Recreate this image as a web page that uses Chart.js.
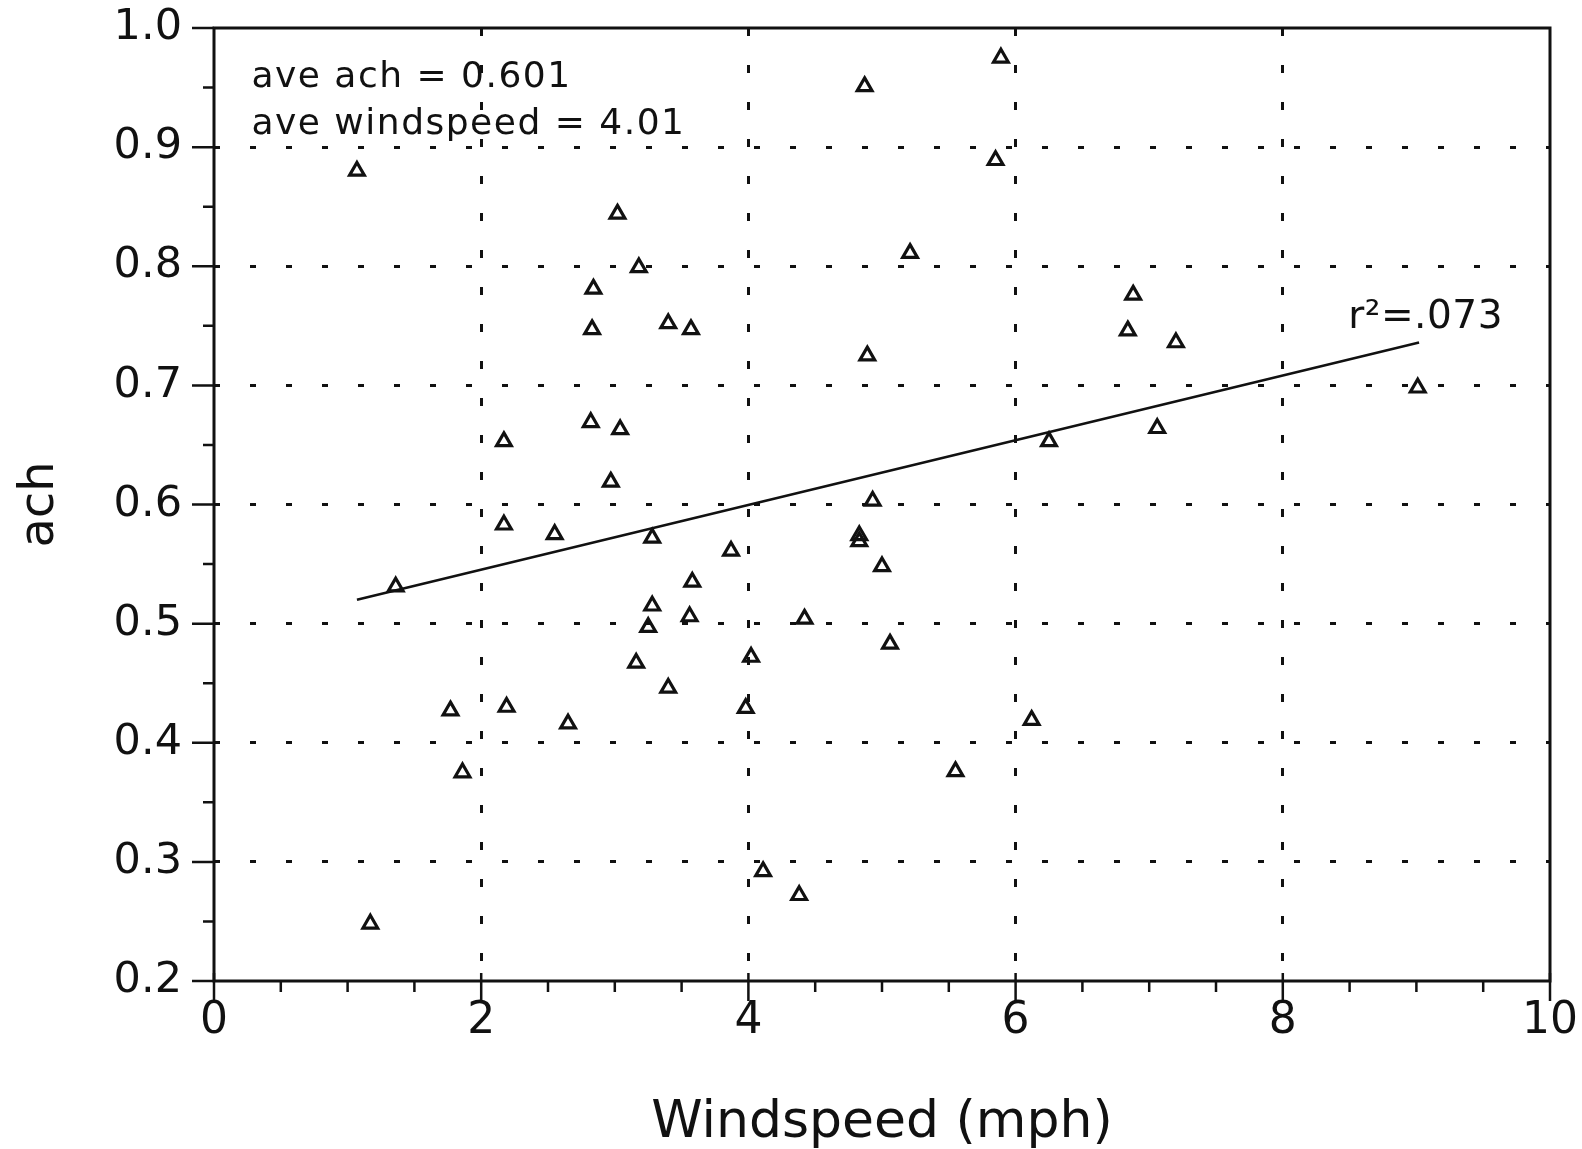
<!DOCTYPE html>
<html>
<head>
<meta charset="utf-8">
<title>ach vs windspeed</title>
<script src="https://cdn.jsdelivr.net/npm/chart.js@4.4.1/dist/chart.umd.min.js"></script>
<style>
  html, body { margin: 0; padding: 0; background: #fff; }
  #wrap { width: 1582px; height: 1149px; }
</style>
</head>
<body>
<div id="wrap"><canvas id="achChart"></canvas></div>
<script>
// wind speed (mph) and air changes per hour
const windspeed = [1.07, 1.17, 1.36, 1.77, 1.86, 2.17, 2.17, 2.19, 2.55, 2.65,
                   2.84, 2.83, 2.82, 2.97, 3.02, 3.04, 3.18, 3.28, 3.28, 3.25,
                   3.16, 3.40, 3.57, 3.58, 3.56, 3.40, 3.87, 4.02, 3.98, 4.11,
                   4.38, 4.42, 4.87, 4.89, 4.93, 4.83, 4.83, 5.00, 5.06, 5.21,
                   5.55, 5.85, 5.89, 6.12, 6.25, 6.84, 6.88, 7.06, 7.20, 9.01];
const ach = [0.880, 0.248, 0.531, 0.427, 0.375, 0.653, 0.583, 0.430, 0.575, 0.416,
             0.781, 0.747, 0.669, 0.619, 0.844, 0.663, 0.799, 0.572, 0.515, 0.497,
             0.467, 0.752, 0.747, 0.535, 0.506, 0.446, 0.561, 0.472, 0.429, 0.292,
             0.272, 0.504, 0.951, 0.725, 0.603, 0.574, 0.569, 0.548, 0.483, 0.811,
             0.376, 0.889, 0.975, 0.419, 0.653, 0.746, 0.776, 0.664, 0.736, 0.698];

// regression line end points
const fitX = [1.07, 9.02];
const fitY = [0.520, 0.736];

const xTicks = [0, 2, 4, 6, 8, 10];
const yTicks = [0.2, 0.3, 0.4, 0.5, 0.6, 0.7, 0.8, 0.9, 1.0];

const notes = ['ave ach = 0.601', 'ave windspeed = 4.01', 'r\u00b2=.073'];

const FONT = "'DejaVu Sans', 'Liberation Sans', sans-serif";
const INK = '#111';

const points = windspeed.map((w, i) => ({ x: w, y: ach[i] }));
const fitLine = fitX.map((x, i) => ({ x: x, y: fitY[i] }));

// frame, tick marks (major + minor) and the text notes
const frameAndTicks = {
    id: 'frameAndTicks',
    afterDatasetsDraw(chart) {
        const { ctx, chartArea: a, scales } = chart;
        const xs = scales.x, ys = scales.y;
        ctx.save();
        ctx.strokeStyle = INK;
        ctx.lineWidth = 3;
        ctx.strokeRect(a.left, a.top, a.right - a.left, a.bottom - a.top);

        ctx.lineWidth = 2.5;
        ctx.beginPath();
        // x axis: minor every 0.5 below, major every 2 across
        for (let v = 0; v <= 10.001; v += 0.5) {
            const px = xs.getPixelForValue(v);
            const major = Math.abs(v / 2 - Math.round(v / 2)) < 1e-6;
            ctx.moveTo(px, major ? a.bottom - 8 : a.bottom);
            ctx.lineTo(px, a.bottom + (major ? 20 : 11));
        }
        // y axis: minor every 0.05, major every 0.1, pointing left
        for (let k = 0; k <= 16; k++) {
            const v = 0.2 + k * 0.05;
            const py = ys.getPixelForValue(v);
            ctx.moveTo(a.left - (k % 2 === 0 ? 22 : 11), py);
            ctx.lineTo(a.left, py);
        }
        ctx.stroke();
        ctx.restore();
    },
    afterDraw(chart) {
        const { ctx, scales } = chart;
        const xs = scales.x, ys = scales.y;
        ctx.save();
        ctx.fillStyle = INK;
        ctx.textBaseline = 'middle';
        ctx.textAlign = 'left';
        ctx.letterSpacing = '1.5px';
        ctx.font = '36px ' + FONT;
        ctx.fillText(notes[0], xs.getPixelForValue(0.28), ys.getPixelForValue(0.958));
        ctx.fillText(notes[1], xs.getPixelForValue(0.28), ys.getPixelForValue(0.919));
        ctx.letterSpacing = '0.5px';
        ctx.font = '39px ' + FONT;
        ctx.fillText(notes[2], xs.getPixelForValue(8.49), ys.getPixelForValue(0.757));
        ctx.restore();
    }
};

const ctx = document.getElementById('achChart').getContext('2d');
const achChart = new Chart(ctx, {
    type: 'scatter',
    data: {
        datasets: [{
            label: 'ach',
            data: points,
            pointStyle: 'triangle',
            pointRadius: 8.5,
            pointHoverRadius: 8.5,
            borderWidth: 3.2,
            borderColor: INK,
            backgroundColor: 'rgba(0,0,0,0)'
        }, {
            type: 'line',
            label: 'fit',
            data: fitLine,
            pointRadius: 0,
            borderWidth: 2.5,
            borderColor: INK,
            fill: false
        }]
    },
    options: {
        responsive: true,
        maintainAspectRatio: false,
        animation: false,
        events: [],
        layout: { padding: { left: 0, top: 28, right: 32, bottom: 0 } },
        plugins: {
            legend: { display: false },
            tooltip: { enabled: false }
        },
        scales: {
            x: {
                type: 'linear',
                min: 0,
                max: 10,
                afterBuildTicks: s => { s.ticks = xTicks.map(v => ({ value: v })); },
                afterFit: s => { s.height = 168; s.paddingLeft = 0; s.paddingRight = 0; },
                grid: {
                    drawTicks: false,
                    lineWidth: 3,
                    color: c => (c.tick && (c.tick.value === 0 || c.tick.value === 10)) ? 'rgba(0,0,0,0)' : INK
                },
                border: { display: false, dash: [8, 29] },
                ticks: {
                    color: INK,
                    padding: 14,
                    font: { family: FONT, size: 44 },
                    callback: v => String(v)
                },
                title: {
                    display: true,
                    text: 'Windspeed (mph)',
                    color: INK,
                    font: { family: FONT, size: 52, lineHeight: 1.0 },
                    padding: { top: 0, bottom: 0 }
                }
            },
            y: {
                type: 'linear',
                min: 0.2,
                max: 1.0,
                afterBuildTicks: s => { s.ticks = yTicks.map(v => ({ value: v })); },
                afterFit: s => { s.width = 214; s.paddingTop = 0; s.paddingBottom = 0; },
                grid: {
                    drawTicks: false,
                    lineWidth: 3,
                    color: c => (c.tick && (c.tick.value <= 0.2 || c.tick.value >= 1.0)) ? 'rgba(0,0,0,0)' : INK
                },
                border: { display: false, dash: [6, 30] },
                ticks: {
                    color: INK,
                    padding: 32,
                    font: { family: FONT, size: 43 },
                    callback: v => Number(v).toFixed(1)
                },
                title: {
                    display: true,
                    text: 'ach',
                    color: INK,
                    font: { family: FONT, size: 48 },
                    padding: { top: 12, bottom: 0 }
                }
            }
        }
    },
    plugins: [frameAndTicks]
});
</script>
</body>
</html>
